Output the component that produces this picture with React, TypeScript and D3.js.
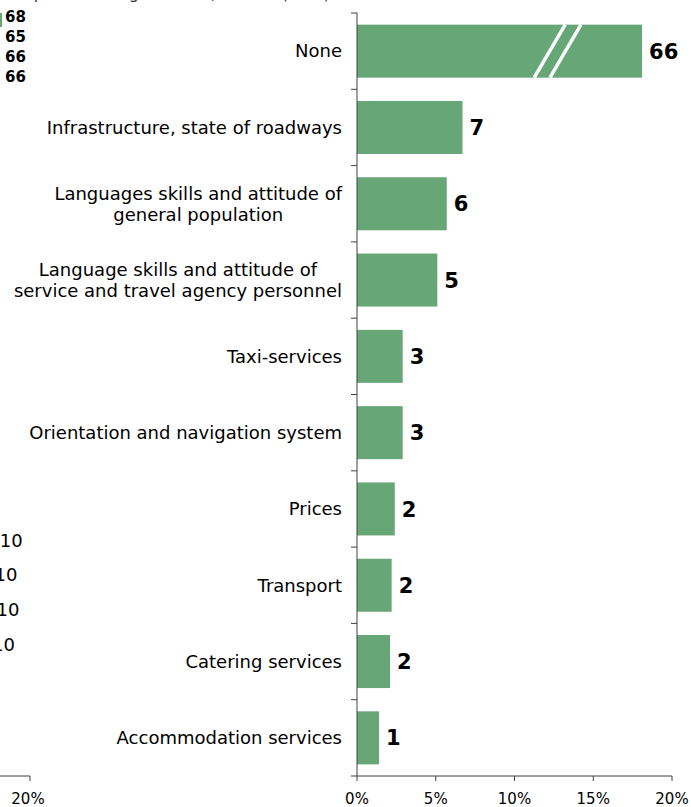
import React from "react";
import * as d3 from "d3";

const categories = [
  "None",
  "Infrastructure, state of roadways",
  "Languages skills and attitude of|general population",
  "Language skills and attitude of|service and travel agency personnel",
  "Taxi-services",
  "Orientation and navigation system",
  "Prices",
  "Transport",
  "Catering services",
  "Accommodation services",
];
const values = [66, 6.7, 5.7, 5.1, 2.9, 2.9, 2.4, 2.2, 2.1, 1.4];
const brokenDisplayValue = 18.1;
const breakAt = [11.25, 12.25];
const xTicks = [0, 5, 10, 15, 20];

// fragments of the neighbouring panel (cut off at the left edge)
const leftValues = [68, 65, 66, 66];
const leftKeys = ["2010", "2010", "2010", "2010"];

const W = 691;
const H = 807;
const BAR = "#67a777";
const AXIS = "#404040";
const FONT = "'DejaVu Sans', Verdana, sans-serif";
const LABEL_SIZE = 18;

function measure(text: string, size: number): number {
  if (typeof document === "undefined") return text.length * size * 0.55;
  const c = document.createElement("canvas");
  const ctx = c.getContext("2d");
  if (!ctx) return text.length * size * 0.55;
  ctx.font = `${size}px 'DejaVu Sans'`;
  return ctx.measureText(text).width;
}

export default function App() {
  const x = d3.scaleLinear().domain([0, 20]).range([357, 672]);
  const y = d3
    .scaleBand<string>()
    .domain(categories)
    .range([13, 776])
    .paddingInner(0.305)
    .paddingOuter(0.1525);
  const step = y.step();
  const bw = y.bandwidth();
  const fmt = d3.format(".0f");
  const x0 = x(0);
  const yBottom = 776;
  const labelRight = 342;

  return (
    <svg
      width={W}
      height={H}
      style={{ position: "absolute", left: 0, top: 0 }}
      fontFamily={FONT}
    >
      <rect width={W} height={H} fill="#fff" />
      {/* cut-off title */}
      <text x={330} y={-1} textAnchor="end" fontSize={16} fill="#333">
        Problems of particular significance, in % of (note)
      </text>

      {/* left panel fragments */}
      <rect x={0} y={13} width={2} height={14} fill={BAR} />
      {leftValues.map((v, i) => (
        <text
          key={"lv" + i}
          x={5}
          y={17 + i * 20}
          dy="0.35em"
          fontSize={15}
          fontWeight="bold"
          fill="#000"
        >
          {v}
        </text>
      ))}
      {leftKeys.map((k, i) => (
        <text
          key={"lk" + i}
          x={[22.7, 17.5, 19.5, 15][i]}
          y={[541, 575, 610, 645][i]}
          dy="0.35em"
          textAnchor="end"
          fontSize={18}
          fill="#000"
        >
          {k}
        </text>
      ))}
      <line x1={0} x2={30} y1={yBottom} y2={yBottom} stroke={AXIS} />
      <line x1={30} x2={30} y1={yBottom} y2={yBottom + 5} stroke={AXIS} />
      <text x={28} y={804} textAnchor="middle" fontSize={15} fill="#000">
        20%
      </text>

      {/* bars */}
      {categories.map((c, i) => {
        const v = i === 0 ? brokenDisplayValue : values[i];
        const yy = y(c)!;
        return (
          <g key={c}>
            <rect x={x0} y={yy} width={x(v) - x0} height={bw} fill={BAR} />
            <text
              x={x(v) + 7}
              y={yy + bw / 2}
              dy="0.36em"
              fontSize={21}
              fontWeight="bold"
              fill="#000"
            >
              {fmt(values[i])}
            </text>
          </g>
        );
      })}
      {/* break marks on the first bar */}
      {breakAt.map((b, i) => {
        const yy = y(categories[0])!;
        const xb = x(b);
        return (
          <line
            key={"br" + i}
            x1={xb}
            y1={yy + bw}
            x2={xb + 31}
            y2={yy}
            stroke="#fff"
            strokeWidth={3.5}
          />
        );
      })}

      {/* category labels */}
      {categories.map((c) => {
        const lines = c.split("|");
        const cy = y(c)! + bw / 2;
        const lh = 21;
        const maxW = d3.max(lines, (l) => measure(l, LABEL_SIZE)) ?? 0;
        const multi = lines.length > 1;
        const cx = multi ? labelRight - maxW / 2 : labelRight;
        return (
          <text
            key={"l" + c}
            textAnchor={multi ? "middle" : "end"}
            fontSize={LABEL_SIZE}
            fill="#000"
          >
            {lines.map((ln, j) => (
              <tspan
                key={j}
                x={cx}
                y={cy + (j - (lines.length - 1) / 2) * lh}
                dy="0.35em"
              >
                {ln}
              </tspan>
            ))}
          </text>
        );
      })}

      {/* y axis */}
      <line x1={x0} x2={x0} y1={13} y2={yBottom} stroke={AXIS} />
      {d3.range(categories.length + 1).map((i) => (
        <line
          key={"yt" + i}
          x1={x0 - 6}
          x2={x0}
          y1={13 + i * step}
          y2={13 + i * step}
          stroke={AXIS}
        />
      ))}

      {/* x axis */}
      <line x1={x0} x2={x(20)} y1={yBottom} y2={yBottom} stroke={AXIS} />
      {xTicks.map((t) => (
        <g key={"xt" + t}>
          <line
            x1={x(t)}
            x2={x(t)}
            y1={yBottom}
            y2={yBottom + 5}
            stroke={AXIS}
          />
          <text
            x={x(t)}
            y={804}
            textAnchor="middle"
            fontSize={15}
            fill="#000"
          >
            {t + "%"}
          </text>
        </g>
      ))}
    </svg>
  );
}
